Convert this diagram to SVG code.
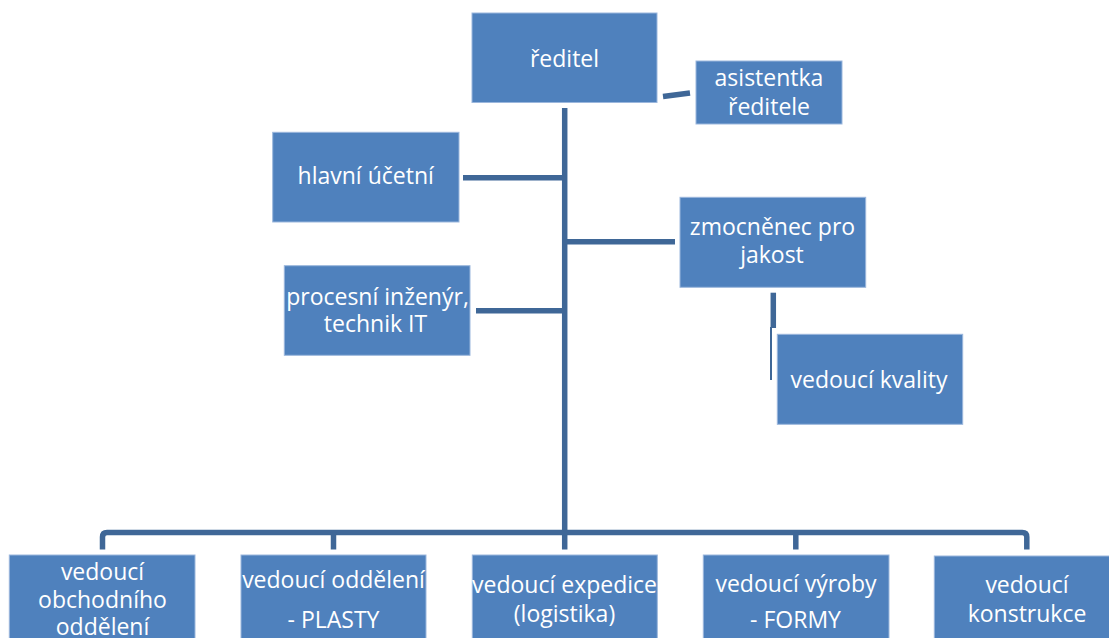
<svg xmlns="http://www.w3.org/2000/svg" width="1109" height="638" viewBox="0 0 1109 638">
  <style>
    .box { fill: #4F81BD; stroke: #9BB7DD; stroke-width: 1; }
    .lbl { font-family: "Open Sans", "Liberation Sans", sans-serif; font-size: 23px; fill: #FFFFFF; text-anchor: middle; }
    .ln { fill: none; stroke: #3F6797; stroke-width: 5.5; }
    .thin { fill: none; stroke: #3F6797; stroke-width: 2; }
  </style>
  <rect width="1109" height="638" fill="#FFFFFF"/>

  <g id="connectors">
    <line class="ln" x1="564.7" y1="108" x2="564.7" y2="549.5"/>
    <line class="ln" x1="663" y1="96.5" x2="690" y2="93"/>
    <line class="ln" x1="463" y1="177.7" x2="564.7" y2="177.7"/>
    <line class="ln" x1="564.7" y1="241.7" x2="675" y2="241.7"/>
    <line class="ln" x1="476" y1="310.7" x2="564.7" y2="310.7"/>
    <line class="ln" x1="773.3" y1="292.7" x2="773.3" y2="328"/>
    <line class="thin" x1="771" y1="327" x2="771" y2="380"/>
    <path class="ln" d="M102.5,549.5 V537 Q102.5,532.5 107,532.5 H1022.3 Q1026.8,532.5 1026.8,537 V549.5"/>
    <line class="ln" x1="333.5" y1="532.5" x2="333.5" y2="549.5"/>
    <line class="ln" x1="795.8" y1="532.5" x2="795.8" y2="549.5"/>
  </g>

  <g id="reditel">
    <rect class="box" x="472" y="13" width="185" height="89.5"/>
    <text class="lbl" x="564.5" y="66.5">ředitel</text>
  </g>
  <g id="asistentka">
    <rect class="box" x="696" y="61" width="146" height="63"/>
    <text class="lbl" x="769" y="86">asistentka</text>
    <text class="lbl" x="769" y="115">ředitele</text>
  </g>
  <g id="hlavni-ucetni">
    <rect class="box" x="272.7" y="132.3" width="186.3" height="89.7"/>
    <text class="lbl" x="365.7" y="184.3">hlavní účetní</text>
  </g>
  <g id="procesni-inzenyr">
    <rect class="box" x="284.3" y="265.7" width="185.7" height="89.6"/>
    <text class="lbl" x="377.5" y="305">procesní inženýr,</text>
    <text class="lbl" x="375.5" y="332.3">technik IT</text>
  </g>
  <g id="zmocnenec">
    <rect class="box" x="680" y="197.3" width="185.7" height="90"/>
    <text class="lbl" x="772.5" y="235">zmocněnec pro</text>
    <text class="lbl" x="772" y="263.3">jakost</text>
  </g>
  <g id="vedouci-kvality">
    <rect class="box" x="777.3" y="334.3" width="185.4" height="90"/>
    <text class="lbl" x="869" y="388.3">vedoucí kvality</text>
  </g>
  <g id="vedouci-obchodniho">
    <rect class="box" x="9.3" y="555" width="185.7" height="95"/>
    <text class="lbl" x="102.5" y="580">vedoucí</text>
    <text class="lbl" x="102.5" y="608.3">obchodního</text>
    <text class="lbl" x="102.5" y="635">oddělení</text>
  </g>
  <g id="vedouci-plasty">
    <rect class="box" x="241" y="555" width="185" height="95"/>
    <text class="lbl" x="333.5" y="588.3">vedoucí oddělení</text>
    <text class="lbl" x="333.5" y="628.3">- PLASTY</text>
  </g>
  <g id="vedouci-expedice">
    <rect class="box" x="472.3" y="555" width="185" height="95"/>
    <text class="lbl" x="564.5" y="592.7">vedoucí expedice</text>
    <text class="lbl" x="564.5" y="621.7">(logistika)</text>
  </g>
  <g id="vedouci-vyroby">
    <rect class="box" x="703.3" y="555" width="185.7" height="95"/>
    <text class="lbl" x="796" y="591.7">vedoucí výroby</text>
    <text class="lbl" x="795.5" y="628.3">- FORMY</text>
  </g>
  <g id="vedouci-konstrukce">
    <rect class="box" x="934.3" y="556" width="185.7" height="95"/>
    <text class="lbl" x="1027" y="593.3">vedoucí</text>
    <text class="lbl" x="1027" y="621.7">konstrukce</text>
  </g>
</svg>
